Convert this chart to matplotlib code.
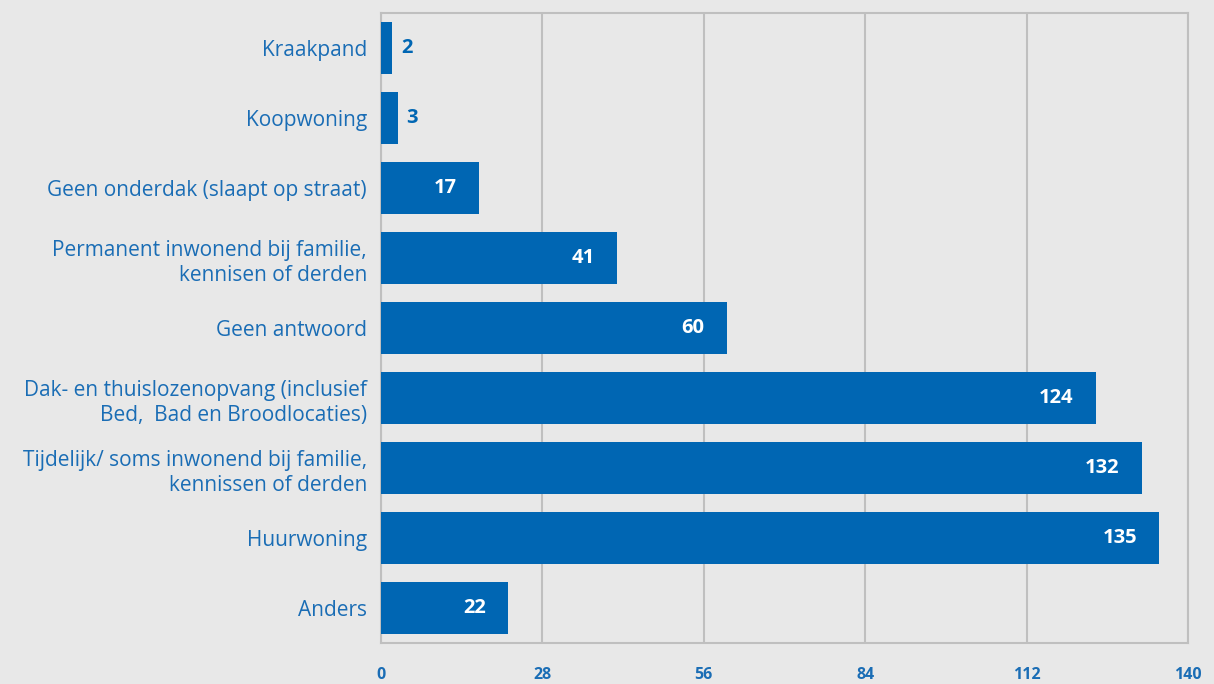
import matplotlib
matplotlib.use("Agg")
import matplotlib.pyplot as plt

categories = [
    "Kraakpand",
    "Koopwoning",
    "Geen onderdak (slaapt op straat)",
    "Permanent inwonend bij familie,\nkennisen of derden",
    "Geen antwoord",
    "Dak- en thuislozenopvang (inclusief\nBed,  Bad en Broodlocaties)",
    "Tijdelijk/ soms inwonend bij familie,\nkennissen of derden",
    "Huurwoning",
    "Anders",
]
values = [2, 3, 17, 41, 60, 124, 132, 135, 22]
xticks = [0, 28, 56, 84, 112, 140]

BG = "#e8e8e8"
BAR = "#0066b3"
TXT = "#1a6db5"
GRID = "#bfbfbf"

plt.rcParams["font.family"] = ["Open Sans", "DejaVu Sans"]

fig = plt.figure(figsize=(12.14, 6.84), dpi=100, facecolor=BG)
ax = fig.add_axes([0.3138, 0.0599, 0.6648, 0.9211], facecolor=BG)

pos = list(range(len(categories)))
ax.barh(pos, values, height=0.75, color=BAR, zorder=3)

ax.set_xlim(0, 140)
ax.set_ylim(len(categories) - 0.5, -0.5)
ax.set_xticks(xticks)
ax.set_xticklabels([str(t) for t in xticks], fontsize=11.5, fontweight="bold", color=TXT)
ax.set_yticks(pos)
ax.set_yticklabels(categories, fontsize=15, color=TXT, linespacing=1.25)
ax.tick_params(axis="x", length=0, pad=17)
ax.tick_params(axis="y", length=0, pad=10)
ax.xaxis.grid(True, color=GRID, linewidth=1.5, zorder=0)
for s in ax.spines.values():
    s.set_color(GRID)
    s.set_linewidth(1.5)

for p, v in zip(pos, values):
    if v < 10:
        ax.annotate(str(v), (v, p), xytext=(6, 0), textcoords="offset points",
                    ha="left", va="center", fontsize=14.5, fontweight="bold", color=BAR)
    else:
        ax.annotate(str(v), (v, p), xytext=(-16, 0), textcoords="offset points",
                    ha="right", va="center", fontsize=14.5, fontweight="bold", color="white")

fig.savefig("out.png", dpi=100, facecolor=BG)
